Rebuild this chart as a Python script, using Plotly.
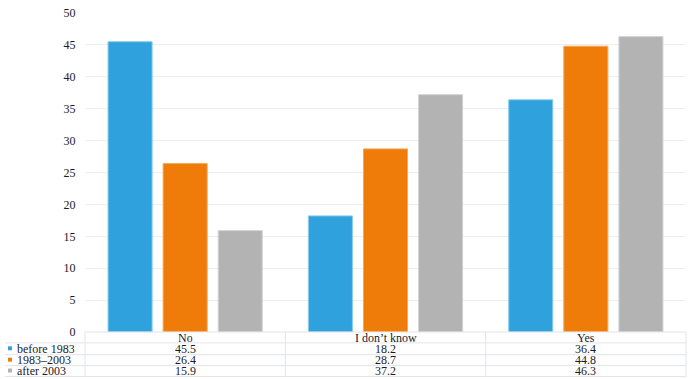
import plotly.graph_objects as go

categories = ["No", "I don\u2019t know", "Yes"]
series_names = ["before 1983", "1983\u20132003", "after 2003"]
before_1983 = [45.5, 18.2, 36.4]
y1983_2003 = [26.4, 28.7, 44.8]
after_2003 = [15.9, 37.2, 46.3]
series_values = [before_1983, y1983_2003, after_2003]
y_ticks = [0, 5, 10, 15, 20, 25, 30, 35, 40, 45, 50]

colors = ["#2fa2de", "#ef7c08", "#b3b3b3"]
edge_colors = ["#8ccbee", "#f5a85a", "#d4d4d4"]

W, H = 692, 379
L, R, T, B = 85, 6, 9, 47
pw = W - L - R
ph = H - T - B

def ypx(p):
    return (H - B - p) / ph

def xpx(p):
    return (p - L) / pw

fig = go.Figure()
for name, vals, c, ec in zip(series_names, series_values, colors, edge_colors):
    fig.add_trace(go.Bar(x=categories, y=vals, name=name,
                         marker=dict(color=c, line=dict(color=ec, width=1)),
                         showlegend=False))

font = dict(family="Liberation Serif", size=12, color="#1a1a2a")
line_col = "#e2e4ea"

shapes = []
annotations = []
row_lines = [332, 343, 355, 366, 377]
for i, yl in enumerate(row_lines):
    x0 = L if i == 0 else 5
    shapes.append(dict(type="line", xref="paper", yref="paper",
                       x0=xpx(x0), x1=1, y0=ypx(yl), y1=ypx(yl),
                       line=dict(color=line_col, width=1)))
for k in range(len(categories) + 1):
    xv = L + k * pw / len(categories)
    shapes.append(dict(type="line", xref="paper", yref="paper",
                       x0=xpx(xv), x1=xpx(xv), y0=ypx(332), y1=ypx(377),
                       line=dict(color=line_col, width=1)))

for i, cat in enumerate(categories):
    annotations.append(dict(x=i, y=ypx(337.5), xref="x", yref="paper",
                            text=cat, showarrow=False, font=font, height=11,
                            xanchor="center", yanchor="middle"))
row_centers = [348.5, 360, 371]
for r, (name, vals, c) in enumerate(zip(series_names, series_values, colors)):
    yc = row_centers[r]
    shapes.append(dict(type="rect", xref="paper", yref="paper",
                       x0=xpx(8), x1=xpx(12), y0=ypx(yc + 2), y1=ypx(yc - 2),
                       fillcolor=c, line=dict(width=0)))
    annotations.append(dict(x=xpx(15), y=ypx(yc), xref="paper", yref="paper",
                            text=name, showarrow=False, font=font, height=11,
                            xanchor="left", yanchor="middle"))
    for i, v in enumerate(vals):
        annotations.append(dict(x=i, y=ypx(yc), xref="x", yref="paper",
                                text=f"{v:.1f}", showarrow=False, font=font,
                                height=11, xanchor="center", yanchor="middle"))

fig.update_layout(
    width=W, height=H,
    margin=dict(l=L, r=R, t=T, b=B, pad=0),
    paper_bgcolor="white", plot_bgcolor="white",
    barmode="group", bargap=0.175, bargroupgap=0.2,
    shapes=shapes, annotations=annotations,
    font=font,
    xaxis=dict(showticklabels=False, showgrid=False, zeroline=False,
               showline=False, ticks=""),
    yaxis=dict(range=[0, 50], tickvals=y_ticks, showgrid=True,
               gridcolor="#eceef2", gridwidth=1, zeroline=False,
               showline=False, ticks="outside", ticklen=6,
               tickcolor="rgba(0,0,0,0)", tickfont=font),
)

fig.write_html("out.html", config={"displayModeBar": False},
               post_script="document.body.style.margin='0';document.body.style.overflow='hidden';")
